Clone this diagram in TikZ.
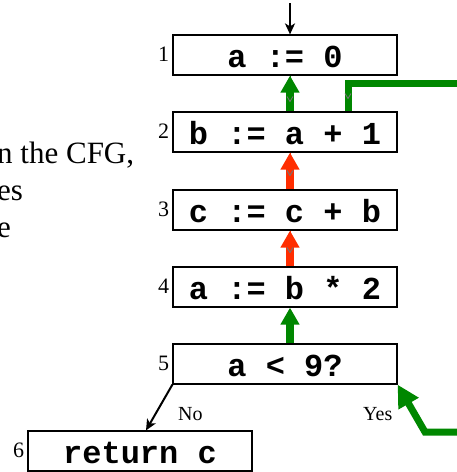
\documentclass[tikz,border=0pt]{standalone}
\usepackage{fontspec}
\setmainfont{Liberation Serif}
\setmonofont{Liberation Mono}
\usetikzlibrary{arrows.meta,calc}
\definecolor{cfggreen}{RGB}{0,135,0}
\definecolor{cfgred}{RGB}{255,45,0}

\begin{document}
\begin{tikzpicture}[
  x=1pt, y=-1pt,
  blk/.style={draw, line width=1.2pt, minimum width=224pt, minimum height=40pt, inner sep=0pt,
    text height=24pt, text depth=0pt, font=\ttfamily\bfseries\fontsize{32}{34}\selectfont},
  num/.style={font=\fontsize{22}{24}\selectfont, inner sep=3pt, yshift=1pt},
  txt/.style={font=\fontsize{31}{37}\selectfont, anchor=base west, inner sep=0pt},
  lab/.style={font=\fontsize{20}{22}\selectfont, anchor=base west, inner sep=0pt},
  arr/.style={-{Stealth[length=11pt, width=10pt, inset=3pt]}, line width=2pt},
  up/.style={-{Triangle[length=17pt, width=18pt]}, line width=8pt, draw=#1},
  flow/.style={line width=7pt, draw=cfggreen},
  tick/.style={-{Straight Barb[length=5pt, width=6pt, line width=0.9pt, color=black!55]},
    line width=0.1pt, draw=#1},
]
\useasboundingbox (0,0) rectangle (457,472);

\node[txt] (t1) at (-3,163) {n the CFG,};
\node[txt] (t2) at (-3,200) {es};
\node[txt] (t3) at (-3,237) {e};

\node[blk, label={[num]left:1}] (b1) at (285,55) {a := 0};
\node[blk, label={[num]left:2}] (b2) at (285,132) {b := a + 1};
\node[blk, label={[num]left:3}] (b3) at (285,210) {c := c + b};
\node[blk, label={[num]left:4}] (b4) at (285,287) {a := b * 2};
\node[blk, label={[num]left:5}] (b5) at (285,364) {a < 9?};
\node[blk, label={[num]left:6}] (b6) at (140,451) {return c};

\coordinate (entry) at (290,3);
\draw[arr] (entry) -- ([xshift=5pt]b1.north);
\draw[arr] (b5.south west) -- ([xshift=6pt]b6.north);
\node[lab] (no) at (178,420) {No};
\node[lab] (yes) at (363,420) {Yes};

\draw[up=cfggreen] ([xshift=5pt]b2.north) -- ([xshift=5pt]b1.south);
\draw[up=cfgred] ([xshift=5pt]b3.north) -- ([xshift=5pt]b2.south);
\draw[up=cfgred] ([xshift=5pt]b4.north) -- ([xshift=5pt]b3.south);
\draw[up=cfggreen] ([xshift=5pt]b5.north) -- ([xshift=5pt]b4.south);

\draw[tick=cfggreen, shorten >=9pt] ([xshift=5pt]b1.south) -- ([xshift=5pt]b2.north);
\draw[tick=cfgred, shorten >=13pt] ([xshift=5pt]b2.south) -- ([xshift=5pt]b3.north);
\draw[tick=cfgred, shorten >=13pt] ([xshift=5pt]b3.south) -- ([xshift=5pt]b4.north);

\coordinate (back) at (457,83.5);
\draw[flow, line cap=butt] (back) -| ([xshift=63pt]b2.north);
\draw[tick=cfggreen, shorten >=12pt] ([xshift=63pt]b2.north |- back) -- ([xshift=63pt]b2.north);

\coordinate (loop) at (457,432);
\draw[flow, -{Triangle[length=22pt, width=22pt]}, line width=7pt] (loop) -- ++(-32,0) -- (b5.south east);
\end{tikzpicture}
\end{document}
